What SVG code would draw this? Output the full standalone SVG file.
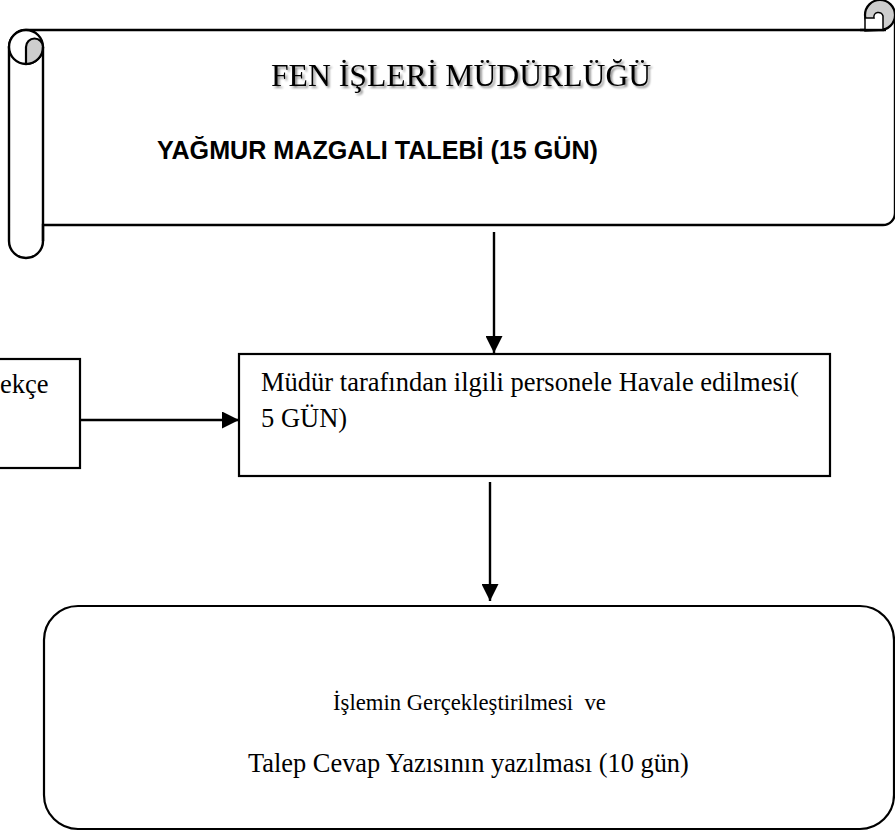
<svg xmlns="http://www.w3.org/2000/svg" width="895" height="836" viewBox="0 0 895 836">
<style>
.ln{fill:none;stroke:#000;stroke-width:2.4;stroke-linejoin:round}
.bx{fill:#fff;stroke:#000;stroke-width:2.2}
.sh{fill:#cdcdcd;stroke:#000;stroke-width:2.2}
.tm{font-family:"Liberation Serif","Times New Roman",serif;fill:#000}
.bd{font-family:"Liberation Sans",Arial,sans-serif;font-weight:700;fill:#000}
.ar{fill:none;stroke:#000;stroke-width:2.4}
</style>
<defs>
<marker id="ah" markerUnits="userSpaceOnUse" markerWidth="17" markerHeight="17" viewBox="0 0 17 17" refX="17" refY="8.5" orient="auto">
<path d="M0,0 L17,8.5 L0,17 Z" fill="#000"/>
</marker>
<filter id="shadow" x="-5%" y="-20%" width="110%" height="150%">
<feGaussianBlur in="SourceAlpha" stdDeviation="1.2"/>
<feOffset dx="1.5" dy="2" result="b"/>
<feComponentTransfer in="b" result="c"><feFuncA type="linear" slope="0.45"/></feComponentTransfer>
<feMerge><feMergeNode in="c"/><feMergeNode in="SourceGraphic"/></feMerge>
</filter>
</defs>
<g id="scroll">
<path class="bx" style="stroke-width:2.4" d="M26,30 H883 A12,12 0 0 1 895,18 V213 A12,12 0 0 1 883,225 H43 V241 A17,17 0 0 1 9,241 V47 A17,17 0 0 1 26,30 Z"/>
<circle class="sh" cx="880" cy="15" r="15"/>
<path d="M865,31 V18 H874 A4.5,4.5 0 0 1 883,16 V30 Z" fill="#fff" stroke="#000" stroke-width="1.5"/>
<line class="ln" x1="860" y1="30" x2="886" y2="30"/>
<circle cx="26" cy="47" r="17" fill="#fff" stroke="#000" stroke-width="2.4"/>
<path class="sh" d="M26,64 V47 A8.5,8.5 0 0 1 43,47 A17,17 0 0 1 26,64 Z"/>
<line class="ln" x1="43" y1="47" x2="43" y2="241"/>
<text class="tm" x="271" y="86" font-size="31.7" filter="url(#shadow)">FEN İŞLERİ MÜDÜRLÜĞÜ</text>
<text class="bd" x="157" y="159" font-size="25" textLength="441" lengthAdjust="spacingAndGlyphs">YAĞMUR MAZGALI TALEBİ (15 GÜN)</text>
</g>
<g id="dilekce">
<rect class="bx" x="-10" y="359" width="90" height="109"/>
<text class="tm" x="0" y="393" font-size="26.5">ekçe</text>
</g>
<g id="havale">
<rect class="bx" x="239" y="354" width="591" height="122"/>
<text class="tm" x="261" y="391" font-size="26.5">Müdür tarafından ilgili personele Havale edilmesi(</text>
<text class="tm" x="261" y="427" font-size="26.5">5 GÜN)</text>
</g>
<g id="islem">
<rect class="bx" x="44" y="606" width="850" height="223" rx="34" ry="34"/>
<text class="tm" x="333" y="710" font-size="22.7" style="white-space:pre">İşlemin Gerçekleştirilmesi  ve</text>
<text class="tm" x="248" y="772" font-size="26.4">Talep Cevap Yazısının yazılması (10 gün)</text>
</g>
<g id="connectors">
<line class="ar" x1="494" y1="232" x2="494" y2="353" marker-end="url(#ah)"/>
<line class="ar" x1="80" y1="420" x2="239" y2="420" marker-end="url(#ah)"/>
<line class="ar" x1="490" y1="482" x2="490" y2="601" marker-end="url(#ah)"/>
</g>
</svg>
